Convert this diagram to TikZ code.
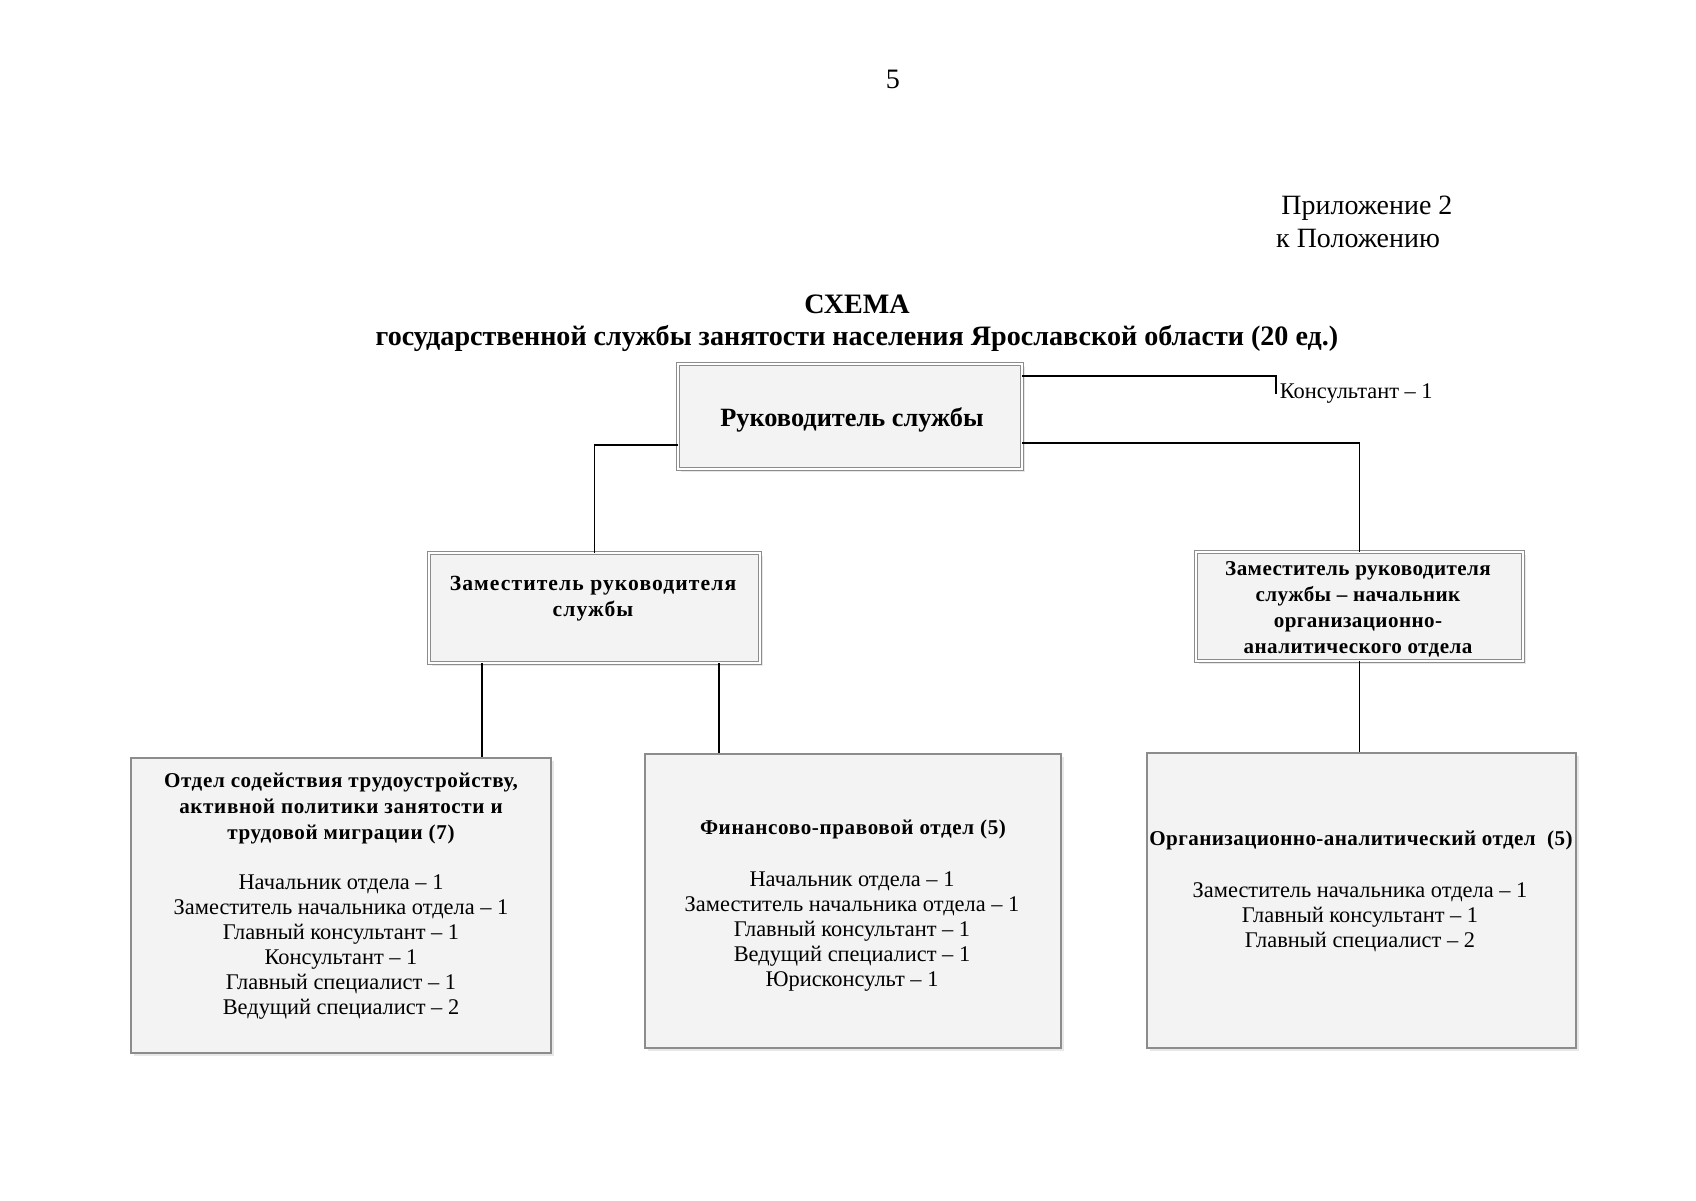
\documentclass[tikz,border=0pt]{standalone}
\usepackage{fontspec}
\setmainfont{Liberation Serif}
\newfontfamily\spacedserif[LetterSpace=3]{Liberation Serif}
\newfontfamily\tightspaced[LetterSpace=2]{Liberation Serif}
\newfontfamily\widespaced[LetterSpace=5]{Liberation Serif}
\usetikzlibrary{positioning, shadows}
\definecolor{boxline}{HTML}{8C8C8C}
\definecolor{boxfill}{HTML}{F3F3F3}
\newcommand{\staffsize}{\fontsize{12.75}{14.2}\selectfont}
\newcommand{\headsize}{\spacedserif\fontsize{12}{14.8}\bfseries\selectfont}
\newcommand{\tightsize}{\tightspaced\fontsize{12}{14.8}\bfseries\selectfont}
\newcommand{\titlesize}{\fontsize{16}{18.2}\bfseries\selectfont}
\tikzset{
  boxsize/.style 2 args={minimum width=#1*0.02cm, minimum height=#2*0.02cm},
  chiefbox/.style={draw=boxline, double=white, double distance=1.1pt, fill=boxfill,
    drop shadow={shadow xshift=1.5pt, shadow yshift=-1.5pt, fill=gray!35}},
  deptbox/.style={draw=boxline, line width=0.7pt, fill=boxfill,
    drop shadow={shadow xshift=1.5pt, shadow yshift=-1.5pt, fill=gray!35}},
  link/.style={line width=1pt},
}

\begin{document}
\begin{tikzpicture}[x=0.02cm, y=-0.02cm, font=\staffsize]
  \useasboundingbox (0,0) rectangle (1696,1200);
  % page header
  \node[font=\fontsize{16}{19}\selectfont] (pagenum) at (893,79) {5};
  \node[anchor=west, align=left, font=\fontsize{15.9}{18.7}\selectfont] (annex) at (1270,222) {\hspace*{3pt}Приложение 2\\к Положению};
  \node[align=center, font=\titlesize] (title) at (857,323)
    {СХЕМА\\государственной службы занятости населения Ярославской области (20 ед.)};

  % boxes
  \node[chiefbox, boxsize={344}{105}] (chief) at (850,416.5) {};
  \node[chiefbox, boxsize={331}{110}] (dep1) at (594.5,608) {};
  \node[chiefbox, boxsize={327}{109}] (dep2) at (1359.5,606.5) {};
  \node[deptbox, boxsize={420}{295}] (deptA) at (341,905.5) {};
  \node[deptbox, boxsize={416}{294}] (deptB) at (853,901) {};
  \node[deptbox, boxsize={429}{295}] (deptC) at (1361.5,900.5) {};

  % box texts
  \node[font=\fontsize{15}{18}\bfseries\selectfont] (chief-t) at (852,419.5) {Руководитель службы};
  \node[align=center, font={\widespaced\fontsize{12.3}{14.8}\bfseries\selectfont}] (dep1-t) at (593,598.5) {Заместитель руководителя\\службы};
  \node[align=center, font=\tightsize] (dep2-t) at (1358,609) {Заместитель руководителя\\службы – начальник\\организационно-\\аналитического отдела};
  \node[align=center, font=\headsize] (deptA-t) at (341,808.5) {Отдел содействия трудоустройству,\\активной политики занятости и\\трудовой миграции (7)};
  \node[align=center] (deptA-s) at (341,947) {Начальник отдела -- 1\\Заместитель начальника отдела -- 1\\Главный консультант -- 1\\Консультант -- 1\\Главный специалист -- 1\\Ведущий специалист -- 2};
  \node[font=\headsize] (deptB-t) at (853,829.5) {Финансово-правовой отдел (5)};
  \node[align=center] (deptB-s) at (852,931.5) {Начальник отдела -- 1\\Заместитель начальника отдела -- 1\\Главный консультант -- 1\\Ведущий специалист -- 1\\Юрисконсульт -- 1};
  \node[font=\tightsize] (deptC-t) at (1361,840.5) {Организационно-аналитический отдел\ \ (5)};
  \node[align=center] (deptC-s) at (1360,917) {Заместитель начальника отдела -- 1\\Главный консультант -- 1\\Главный специалист -- 2};
  \node[anchor=west, inner sep=2pt] (consult) at (1276,394) {Консультант -- 1};

  % connectors
  \draw[link] ([yshift=0.81cm]chief.east) -| (consult.west);
  \draw[link] ([yshift=-0.57cm]chief.west) -| (dep1.north);
  \draw[link] ([yshift=-0.53cm]chief.east) -| (dep2.north);
  \path (dep1.south) ++(-112.5,0) coordinate (tapA);
  \path (dep1.south) ++(124.5,0) coordinate (tapB);
  \draw[link] (tapA) -- (tapA |- deptA.north);
  \draw[link] (tapB) -- (tapB |- deptB.north);
  \draw[link] (dep2.south) -- (dep2.south |- deptC.north);
\end{tikzpicture}
\end{document}
